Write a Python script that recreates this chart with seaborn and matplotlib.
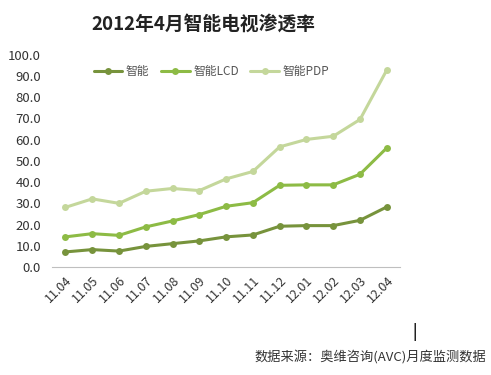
import matplotlib
matplotlib.use("Agg")
import matplotlib.pyplot as plt
import pandas as pd
import seaborn as sns

# Data
months = ["11.04", "11.05", "11.06", "11.07", "11.08", "11.09", "11.10",
          "11.11", "11.12", "12.01", "12.02", "12.03", "12.04"]
smart = [7.1, 8.2, 7.5, 9.7, 11.0, 12.3, 14.2, 15.1, 19.2, 19.5, 19.5, 22.0, 28.3]
smart_lcd = [14.2, 15.7, 14.9, 18.9, 21.7, 24.7, 28.6, 30.3, 38.5, 38.7, 38.7, 43.7, 56.1]
smart_pdp = [28.1, 32.1, 30.0, 35.7, 37.0, 36.0, 41.5, 45.0, 56.6, 60.1, 61.6, 69.5, 92.8]
series_names = ["智能", "智能LCD", "智能PDP"]

colors = ["#77933C", "#8DBB45", "#C4D79B"]

sns.set_style("white")
plt.rcParams["font.family"] = ["Noto Sans CJK SC", "DejaVu Sans"]

df = pd.DataFrame({
    "idx": list(range(len(months))) * 3,
    "value": smart + smart_lcd + smart_pdp,
    "series": [series_names[0]] * 13 + [series_names[1]] * 13 + [series_names[2]] * 13,
})

fig = plt.figure(figsize=(4.91, 3.75), dpi=100)
ax = fig.add_axes([0.106, 0.288, 0.709, 0.566])

sns.lineplot(
    data=df, x="idx", y="value", hue="series",
    hue_order=series_names, palette=colors,
    marker="o", markersize=5, markeredgewidth=0,
    linewidth=2.2, ax=ax,
)

ax.set_xlim(-0.5, len(months) - 0.5)
ax.set_ylim(0, 100)
ax.set_yticks(range(0, 101, 10))
ax.set_yticklabels([f"{v:.1f}" for v in range(0, 101, 10)], fontsize=9.5, color="#333333")
ax.set_xticks(range(len(months)))
ax.set_xticklabels(months, rotation=45, ha="right", rotation_mode="anchor",
                   fontsize=9, color="#333333")
ax.tick_params(axis="both", length=0)
ax.tick_params(axis="y", pad=8)
ax.tick_params(axis="x", pad=5)
ax.set_xlabel("")
ax.set_ylabel("")
for side in ["top", "right", "left"]:
    ax.spines[side].set_visible(False)
ax.spines["bottom"].set_color("#BFBFBF")

ax.legend(
    loc="upper left", bbox_to_anchor=(0.09, 1.0), ncol=3, frameon=False,
    fontsize=8.5, handlelength=2.4, columnspacing=1.0, handletextpad=0.3,
    labelcolor="#555555",
)

fig.text(0.415, 0.935, "2012年4月智能电视渗透率", ha="center", va="center",
         fontsize=13.5, fontweight="bold", color="#222222")
fig.text(0.845, 0.115, "|", ha="center", va="center", fontsize=11,
         fontweight="bold", color="#222222")
fig.text(0.99, 0.05, "数据来源：奥维咨询(AVC)月度监测数据", ha="right", va="center",
         fontsize=9.5, color="#333333")

fig.savefig("out.png", dpi=100)
